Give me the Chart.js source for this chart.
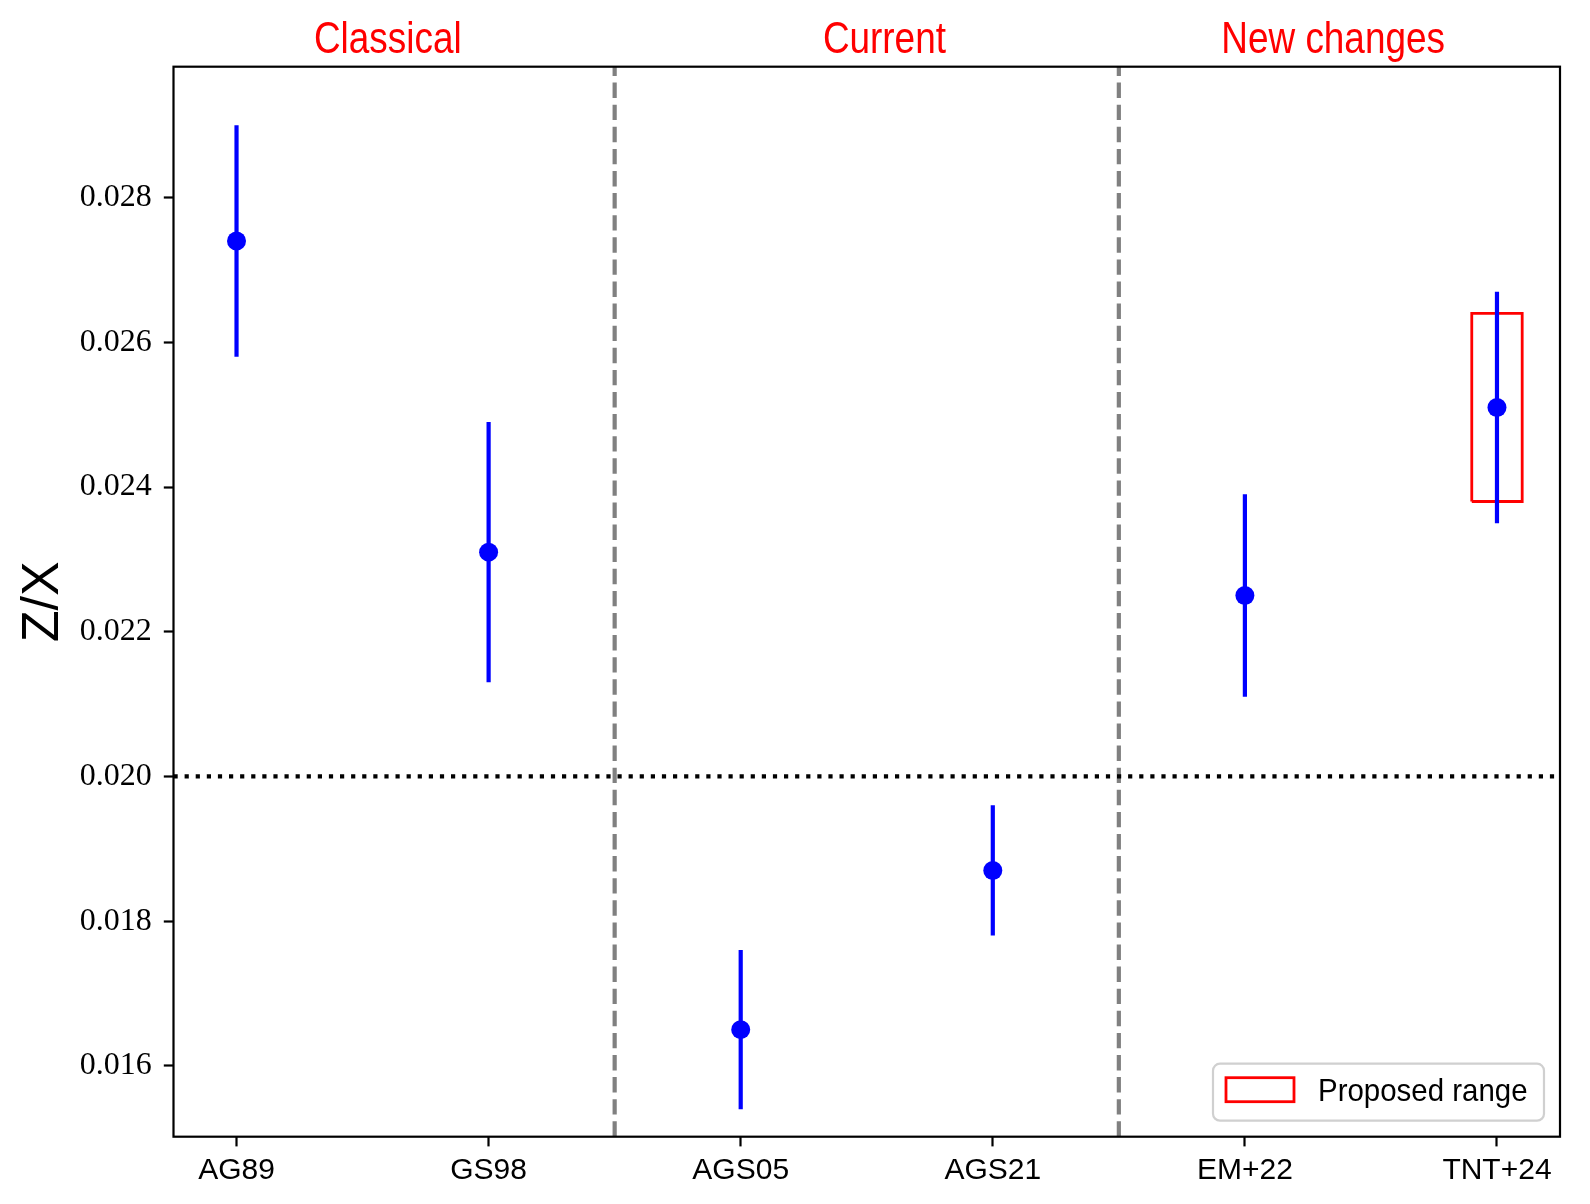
<!DOCTYPE html>
<html>
<head>
<meta charset="utf-8">
<title>Z/X solar abundances</title>
<script src="https://cdn.jsdelivr.net/npm/chart.js@4"></script>
<style>
  html, body { margin: 0; padding: 0; background: #fff; }
  canvas { display: block; }
</style>
</head>
<body>
<canvas id="chart" width="1590" height="1204"></canvas>
<script>
// Z/X of the solar mixtures, grouped by era; red box marks the proposed range.

const categories = ["AG89", "GS98", "AGS05", "AGS21", "EM+22", "TNT+24"];
const zxValues = [0.0274, 0.0231, 0.0165, 0.0187, 0.0225, 0.0251];
const zxErrors = [0.0016, 0.0018, 0.0011, 0.0009, 0.0014, 0.0016];

const proposedIndex = 5;
const proposedHalfWidth = 0.1;
const proposedRange = [0.0238, 0.0264];

const sectionLabels = ["Classical", "Current", "New changes"];
const sectionCenters = [0.6, 2.57, 4.35];
const sectionDividers = [1.5, 3.5];
const referenceZX = 0.02;

const yTicks = [0.016, 0.018, 0.020, 0.022, 0.024, 0.026, 0.028];
const yLimits = [0.01502, 0.02981];
const xLimits = [-0.25, 5.25];

const SANS = '"Liberation Sans", Arial, sans-serif';
const SERIF = '"Liberation Serif", "DejaVu Serif", serif';

// error bars: one segment per category, broken by null points
const errorSegments = [];
zxValues.forEach((v, i) => {
  errorSegments.push({ x: i, y: v - zxErrors[i] });
  errorSegments.push({ x: i, y: v + zxErrors[i] });
  errorSegments.push({ x: i, y: null });
});

const boxX0 = proposedIndex - proposedHalfWidth;
const boxX1 = proposedIndex + proposedHalfWidth;
const proposedBox = [
  { x: boxX0, y: proposedRange[0] },
  { x: boxX0, y: proposedRange[1] },
  { x: boxX1, y: proposedRange[1] },
  { x: boxX1, y: proposedRange[0] },
  { x: boxX0, y: proposedRange[0] },
];

const dividerData = [];
sectionDividers.forEach(d => {
  dividerData.push({ x: d, y: yLimits[0] });
  dividerData.push({ x: d, y: yLimits[1] });
  dividerData.push({ x: d, y: null });
});

// narrow sans text: the original uses a condensed LaTeX sans face
function narrowText(ctx, text, x, y, squeeze, align) {
  ctx.save();
  ctx.translate(x, y);
  ctx.scale(squeeze, 1);
  ctx.textAlign = align;
  ctx.fillText(text, 0, 0);
  ctx.restore();
}

const decorations = {
  id: "decorations",
  afterDraw(chart) {
    const { ctx, chartArea: a, scales: { x } } = chart;
    ctx.save();

    // axes frame
    ctx.strokeStyle = "#000";
    ctx.lineWidth = 2.2;
    ctx.strokeRect(a.left, a.top, a.right - a.left, a.bottom - a.top);

    // section titles above the plot
    ctx.fillStyle = "#ff0000";
    ctx.font = "45px " + SANS;
    ctx.textBaseline = "alphabetic";
    sectionLabels.forEach((t, i) =>
      narrowText(ctx, t, x.getPixelForValue(sectionCenters[i]), a.top - 14, 0.82, "center"));

    // legend, lower right
    const w = 331, h = 57;
    const lx = a.right - 16 - w, ly = a.bottom - 16 - h;
    ctx.beginPath();
    ctx.roundRect(lx, ly, w, h, 7);
    ctx.fillStyle = "rgba(255,255,255,0.8)";
    ctx.fill();
    ctx.strokeStyle = "#d0d0d0";
    ctx.lineWidth = 2.2;
    ctx.stroke();

    ctx.strokeStyle = "#ff0000";
    ctx.lineWidth = 2.8;
    ctx.strokeRect(lx + 13, ly + 14, 68, 24);

    ctx.fillStyle = "#000";
    ctx.font = "32px " + SANS;
    narrowText(ctx, "Proposed range", lx + 105, ly + 37, 0.92, "left");

    ctx.restore();
  }
};

new Chart(document.getElementById("chart"), {
  type: "line",
  data: {
    datasets: [
      {
        type: "scatter",
        data: zxValues.map((v, i) => ({ x: i, y: v })),
        backgroundColor: "#0000ff",
        borderColor: "#0000ff",
        pointRadius: 9.5,
        pointBorderWidth: 0,
        order: 0,
      },
      {
        data: errorSegments,
        borderColor: "#0000ff",
        borderWidth: 4.2,
        pointRadius: 0,
        spanGaps: false,
        order: 1,
      },
      {
        data: proposedBox,
        borderColor: "#ff0000",
        borderWidth: 2.8,
        pointRadius: 0,
        fill: false,
        order: 2,
      },
      {
        data: [{ x: xLimits[0], y: referenceZX }, { x: xLimits[1], y: referenceZX }],
        borderColor: "#000000",
        borderWidth: 4.2,
        borderDash: [4.2, 6.9],
        pointRadius: 0,
        order: 3,
      },
      {
        data: dividerData,
        borderColor: "#808080",
        borderWidth: 4.2,
        borderDash: [15.4, 6.7],
        pointRadius: 0,
        spanGaps: false,
        order: 4,
      },
    ],
  },
  options: {
    responsive: false,
    animation: false,
    events: [],
    layout: { padding: { left: 0, right: 30, top: 66.7, bottom: 0 } },
    plugins: { legend: { display: false }, tooltip: { enabled: false } },
    scales: {
      x: {
        type: "linear",
        min: xLimits[0],
        max: xLimits[1],
        border: { display: false },
        grid: { drawOnChartArea: false, drawTicks: true, tickLength: 9.7, tickWidth: 2.2, tickColor: "#000" },
        ticks: {
          autoSkip: false,
          maxRotation: 0,
          padding: 6,
          color: "#000",
          font: { family: SANS, size: 30 },
          callback: v => categories[v],
        },
        afterBuildTicks: s => { s.ticks = categories.map((_, i) => ({ value: i })); },
        afterFit: s => { s.height = 67.3; s.paddingLeft = 0; s.paddingRight = 0; },
      },
      y: {
        type: "linear",
        min: yLimits[0],
        max: yLimits[1],
        border: { display: false },
        grid: { drawOnChartArea: false, drawTicks: true, tickLength: 9.7, tickWidth: 2.2, tickColor: "#000" },
        ticks: {
          padding: 12,
          color: "#000",
          font: { family: SERIF, size: 32 },
          callback: v => v.toFixed(3),
        },
        title: {
          display: true,
          text: "Z/X",
          color: "#000",
          font: { family: SANS, size: 52 },
          padding: { top: 12, bottom: 0 },
        },
        afterBuildTicks: s => { s.ticks = yTicks.map(v => ({ value: v })); },
        afterFit: s => { s.width = 173.5; s.paddingTop = 0; s.paddingBottom = 0; },
      },
    },
  },
  plugins: [decorations],
});
</script>
</body>
</html>
